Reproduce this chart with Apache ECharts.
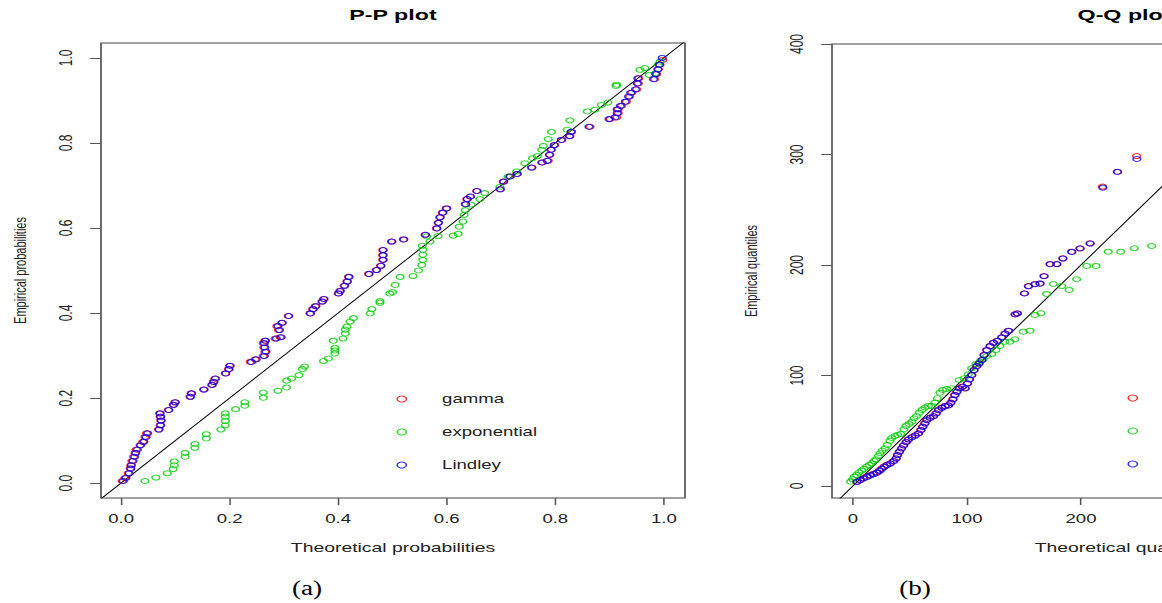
<!DOCTYPE html>
<html>
<head>
<meta charset="utf-8">
<title>P-P and Q-Q plots</title>
<script src="https://cdn.jsdelivr.net/npm/echarts@6/dist/echarts.min.js"></script>
<style>
  html, body { margin: 0; padding: 0; background: #fff; overflow: hidden; }
  #wrap { width: 1162px; height: 603px; overflow: hidden; }
  /* the source figure was stretched sideways, so draw narrow and scale it out */
  #chart { width: 750px; height: 603px; transform: scaleX(1.549333); transform-origin: 0 0; }
</style>
</head>
<body>
<div id="wrap"><div id="chart"></div></div>
<script>
// ---- data ----
const distNames = ['gamma', 'exponential', 'Lindley'];
const distColors = ['#ff0000', '#00cc00', '#0000ff'];

const ppTicks = [0, 0.2, 0.4, 0.6, 0.8, 1.0];
const qqTicks = [0, 100, 200, 300, 400];
const ppXRange = [-0.037, 1.039];
const ppYRange = [-0.035, 1.035];
const qqXRange = [-18.4, 493.9];
const qqYRange = [-10.9, 400];

// P-P: [theoretical, empirical]
const ppGamma = [
  [0.002,0.005],[0.007,0.012],[0.013,0.023],[0.017,0.035],[0.018,0.042],[0.020,0.052],[0.023,0.062],[0.026,0.071],
  [0.028,0.079],[0.035,0.089],[0.040,0.097],[0.044,0.109],[0.047,0.117],[0.069,0.126],[0.072,0.136],[0.073,0.147],
  [0.072,0.156],[0.071,0.164],[0.087,0.172],[0.096,0.184],[0.099,0.190],[0.127,0.203],[0.129,0.211],[0.152,0.220],
  [0.167,0.231],[0.170,0.238],[0.173,0.246],[0.192,0.258],[0.198,0.268],[0.200,0.276],[0.238,0.285],[0.247,0.291],
  [0.262,0.299],[0.265,0.309],[0.263,0.319],[0.262,0.329],[0.265,0.335],[0.284,0.340],[0.293,0.343],[0.290,0.360],
  [0.287,0.369],[0.296,0.377],[0.308,0.393],[0.348,0.399],[0.353,0.409],[0.358,0.416],[0.370,0.427],[0.373,0.433],
  [0.400,0.446],[0.403,0.452],[0.411,0.464],[0.416,0.474],[0.419,0.485],[0.456,0.492],[0.470,0.501],[0.478,0.511],
  [0.482,0.525],[0.482,0.536],[0.482,0.548],[0.498,0.568],[0.520,0.573],[0.560,0.584],[0.581,0.599],[0.584,0.612],
  [0.587,0.625],[0.592,0.636],[0.599,0.646],[0.634,0.656],[0.637,0.668],[0.643,0.674],[0.655,0.687],[0.698,0.691],
  [0.704,0.709],[0.716,0.721],[0.729,0.727],[0.756,0.742],[0.775,0.754],[0.787,0.758],[0.790,0.772],[0.793,0.784],
  [0.799,0.795],[0.812,0.807],[0.827,0.816],[0.830,0.826],[0.864,0.838],[0.901,0.856],[0.913,0.860],[0.916,0.870],
  [0.916,0.879],[0.922,0.887],[0.931,0.897],[0.937,0.909],[0.941,0.918],[0.950,0.926],[0.953,0.940],[0.954,0.952],
  [0.983,0.950],[0.987,0.962],[0.990,0.973],[0.993,0.984],[0.998,0.995]
];
const ppExpo = [
  [0.044,0.005],[0.064,0.013],[0.085,0.023],[0.096,0.033],[0.098,0.042],[0.098,0.051],[0.118,0.062],[0.118,0.071],
  [0.136,0.083],[0.136,0.092],[0.157,0.105],[0.157,0.115],[0.184,0.126],[0.192,0.136],[0.192,0.146],[0.192,0.156],
  [0.192,0.164],[0.211,0.174],[0.228,0.182],[0.228,0.190],[0.262,0.201],[0.262,0.213],[0.289,0.217],[0.305,0.225],
  [0.305,0.241],[0.314,0.246],[0.328,0.254],[0.334,0.268],[0.338,0.274],[0.373,0.287],[0.382,0.293],[0.394,0.305],
  [0.394,0.312],[0.394,0.318],[0.391,0.335],[0.409,0.340],[0.413,0.352],[0.413,0.361],[0.416,0.368],[0.422,0.380],
  [0.428,0.388],[0.459,0.399],[0.462,0.409],[0.477,0.424],[0.477,0.428],[0.495,0.446],[0.500,0.449],[0.505,0.466],
  [0.514,0.485],[0.538,0.487],[0.548,0.500],[0.554,0.513],[0.556,0.525],[0.556,0.537],[0.556,0.549],[0.555,0.558],
  [0.569,0.568],[0.563,0.580],[0.584,0.581],[0.612,0.582],[0.621,0.586],[0.623,0.603],[0.630,0.615],[0.632,0.631],
  [0.634,0.642],[0.645,0.655],[0.661,0.668],[0.670,0.682],[0.698,0.697],[0.713,0.721],[0.729,0.733],[0.744,0.752],
  [0.758,0.764],[0.767,0.769],[0.775,0.784],[0.778,0.793],[0.787,0.809],[0.793,0.826],[0.822,0.831],[0.827,0.853],
  [0.859,0.874],[0.873,0.878],[0.885,0.889],[0.897,0.895],[0.912,0.934],[0.913,0.937],[0.956,0.972],[0.965,0.976],
  [0.973,0.960],[0.985,0.964],[0.990,0.984],[0.993,0.991]
];
const ppLindley = [
  [0.004,0.005],[0.009,0.012],[0.015,0.023],[0.018,0.034],[0.019,0.042],[0.022,0.052],[0.025,0.062],[0.027,0.071],
  [0.030,0.079],[0.036,0.089],[0.042,0.097],[0.046,0.108],[0.049,0.117],[0.070,0.126],[0.073,0.136],[0.074,0.147],
  [0.073,0.156],[0.072,0.164],[0.088,0.172],[0.097,0.184],[0.100,0.190],[0.128,0.203],[0.130,0.211],[0.153,0.220],
  [0.168,0.231],[0.171,0.238],[0.174,0.246],[0.193,0.258],[0.199,0.268],[0.201,0.276],[0.240,0.285],[0.249,0.291],
  [0.264,0.299],[0.267,0.309],[0.265,0.319],[0.264,0.329],[0.266,0.335],[0.286,0.340],[0.295,0.343],[0.292,0.360],
  [0.289,0.369],[0.297,0.377],[0.309,0.393],[0.349,0.399],[0.354,0.409],[0.359,0.416],[0.371,0.427],[0.374,0.433],
  [0.401,0.446],[0.404,0.452],[0.412,0.464],[0.417,0.474],[0.420,0.485],[0.457,0.492],[0.471,0.501],[0.479,0.511],
  [0.483,0.525],[0.483,0.536],[0.483,0.548],[0.499,0.568],[0.521,0.573],[0.561,0.584],[0.582,0.599],[0.585,0.612],
  [0.588,0.625],[0.593,0.636],[0.600,0.646],[0.635,0.656],[0.638,0.668],[0.644,0.674],[0.656,0.687],[0.699,0.691],
  [0.705,0.709],[0.717,0.721],[0.730,0.727],[0.757,0.742],[0.776,0.754],[0.785,0.758],[0.789,0.772],[0.792,0.784],
  [0.798,0.795],[0.811,0.807],[0.826,0.816],[0.829,0.826],[0.862,0.838],[0.899,0.856],[0.910,0.860],[0.914,0.870],
  [0.914,0.879],[0.920,0.887],[0.929,0.897],[0.935,0.909],[0.939,0.918],[0.948,0.926],[0.951,0.940],[0.952,0.952],
  [0.981,0.950],[0.985,0.962],[0.989,0.973],[0.992,0.984],[0.997,1.000]
];

// Q-Q: [theoretical, empirical]
const qqGamma = [
  [3.2,3.9],[6.1,5.4],[9.1,7.0],[12.0,8.4],[14.9,9.7],[17.8,10.9],[20.8,12.1],[23.1,13.9],[25.1,15.7],[27.2,17.5],
  [29.5,19.0],[32.5,20.5],[35.4,22.6],[37.7,25.0],[38.9,28.1],[40.6,31.1],[42.4,34.1],[44.2,36.8],[46.5,39.8],[48.5,42.2],
  [51.5,44.3],[54.4,45.8],[57.3,47.7],[59.4,50.7],[61.1,53.7],[62.9,56.7],[64.6,59.7],[67.5,61.8],[70.5,63.3],[72.8,65.8],
  [74.8,68.8],[77.8,70.9],[80.7,72.4],[83.6,73.0],[85.7,75.4],[87.5,78.5],[89.2,82.4],[91.0,85.4],[93.2,88.4],[95.9,89.9],
  [98.2,88.4],[100.3,92.9],[102.0,96.6],[104.1,100.5],[106.1,105.0],[108.5,108.6],[110.5,111.0],[112.9,114.0],[114.9,118.6],
  [117.3,123.1],[120.2,126.7],[123.1,129.7],[126.6,131.5],[130.4,134.6],[133.3,138.2],[136.3,140.5],[142.1,155.4],
  [144.1,156.3],[150.3,174.4],[153.8,180.9],[159.6,182.8],[164.0,183.3],[167.5,190.0],[172.8,200.9],[178.7,200.9],
  [184.0,206.0],[191.8,212.0],[199.1,215.1],[207.9,219.6],[219.0,270.9],[231.9,284.4],[248.8,298.6]
];
const qqExpo = [
  [-2.0,3.9],[-0.3,6.0],[1.2,8.4],[3.2,10.0],[5.3,12.1],[7.6,13.9],[9.6,15.4],[12.0,17.5],[14.3,19.0],[16.4,20.5],
  [18.4,22.6],[20.2,24.1],[22.2,27.1],[23.7,29.6],[25.7,32.0],[28.1,34.1],[30.1,37.1],[32.5,41.0],[33.9,43.4],[36.8,45.2],
  [39.2,46.2],[41.8,47.1],[44.7,51.3],[46.5,54.3],[49.1,56.1],[51.5,58.2],[53.5,61.3],[55.8,63.3],[58.2,66.3],[60.5,68.8],
  [63.2,70.9],[66.1,72.4],[69.0,72.4],[71.9,75.4],[74.0,79.4],[76.3,84.4],[78.7,86.9],[82.2,87.8],[86.5,88.4],[93.2,95.9],
  [97.4,97.5],[101.2,101.1],[104.1,106.5],[107.9,110.4],[111.4,112.5],[114.3,114.7],[117.3,117.6],[121.7,119.5],
  [125.4,123.1],[128.9,126.7],[133.3,130.6],[137.7,130.6],[142.1,132.8],[149.4,139.6],[155.3,140.5],[159.6,154.8],
  [164.9,156.3],[169.9,173.8],[175.7,182.8],[183.1,180.9],[189.7,177.4],[196.2,187.1],[205.0,199.1],[213.2,199.1],
  [223.9,212.0],[234.8,212.0],[246.8,215.1],[262.0,217.2]
];
const qqLindley = [
  [3.6,3.7],[6.5,5.2],[9.4,6.8],[12.4,8.2],[15.3,9.5],[18.2,10.7],[21.1,12.0],[23.5,13.7],[25.5,15.5],[27.6,17.3],
  [29.9,18.8],[32.9,20.3],[35.8,22.4],[38.0,24.8],[39.2,27.9],[40.9,30.9],[42.7,33.9],[44.5,36.6],[46.8,39.6],[48.8,42.0],
  [51.8,44.1],[54.7,45.6],[57.6,47.5],[59.7,50.5],[61.4,53.5],[63.2,56.5],[64.9,59.5],[67.8,61.6],[70.8,63.1],[73.1,65.6],
  [75.1,68.6],[78.1,70.7],[81.0,72.2],[83.9,72.8],[86.0,75.2],[87.8,78.3],[89.5,82.2],[91.3,85.2],[93.5,88.2],[96.2,89.7],
  [98.5,88.2],[100.6,92.7],[102.3,96.4],[104.3,100.3],[106.3,104.8],[108.7,108.4],[110.7,110.8],[113.1,113.8],[115.1,118.4],
  [117.5,122.9],[120.4,126.5],[123.3,129.5],[126.8,131.3],[130.6,134.4],[133.5,138.0],[136.5,140.3],[142.3,155.2],
  [144.3,156.1],[150.5,174.2],[154.0,180.7],[159.8,182.6],[164.2,183.1],[167.7,189.8],[173.0,200.7],[178.9,200.7],
  [184.2,205.8],[192.0,211.8],[199.3,214.9],[208.1,219.4],[219.2,270.0],[232.1,284.2],[249.0,295.9]
];

// ---- layout (positions measured in the 1162 px picture) ----
const S = 1162 / 750;
const px = v => v / S;
const font = "'Liberation Sans', Arial, sans-serif";
const serif = "'Liberation Serif', 'Times New Roman', serif";
const textColor = '#222';

function pointSeries(name, data, color, idx) {
  return {
    name: name,
    type: 'scatter',
    xAxisIndex: idx,
    yAxisIndex: idx,
    data: data,
    symbol: 'circle',
    symbolSize: 5,
    itemStyle: { color: 'rgba(0,0,0,0)', borderColor: color, borderWidth: 1 },
    emphasis: { disabled: true },
    silent: true
  };
}

function refLine(range, idx) {
  return {
    name: 'ref' + idx,
    type: 'line',
    xAxisIndex: idx,
    yAxisIndex: idx,
    data: [[range[0], range[0]], [range[1], range[1]]],
    showSymbol: false,
    lineStyle: { color: '#000', width: 0.8 },
    emphasis: { disabled: true },
    silent: true,
    z: 1
  };
}

function xAxisFor(idx, range, ticks, name, fmt) {
  return {
    gridIndex: idx,
    type: 'value',
    min: range[0],
    max: range[1],
    name: name,
    nameLocation: 'middle',
    nameGap: 43,
    nameTextStyle: { fontFamily: font, fontSize: 12.5, color: textColor },
    axisLine: { show: false, onZero: false },
    axisTick: { show: true, length: 7, customValues: ticks, lineStyle: { color: '#555' } },
    axisLabel: { customValues: ticks, formatter: fmt, margin: 15, fontFamily: font, fontSize: 12, color: textColor },
    splitLine: { show: false }
  };
}

function yAxisFor(idx, range, ticks, name, fmt) {
  return {
    gridIndex: idx,
    type: 'value',
    min: range[0],
    max: range[1],
    name: name,
    nameLocation: 'middle',
    nameGap: 47,
    nameTextStyle: { fontFamily: font, fontSize: 11, color: textColor },
    axisLine: { show: false, onZero: false },
    axisTick: { show: true, length: 7, customValues: ticks, lineStyle: { color: '#555' } },
    axisLabel: { customValues: ticks, formatter: fmt, rotate: 90, margin: 17, fontFamily: font, fontSize: 12, color: textColor },
    splitLine: { show: false }
  };
}

function legendAt(x, y) {
  return {
    orient: 'vertical',
    left: px(x) - 3,
    top: y,
    itemWidth: 6,
    itemHeight: 6,
    itemGap: 21,
    icon: 'circle',
    selectedMode: false,
    padding: 0,
    data: distNames,
    itemStyle: { borderWidth: 1 },
    textStyle: { fontFamily: font, fontSize: 12, color: textColor, lineHeight: 12, padding: [0, 0, 0, 18] }
  };
}

// the panel letters sit in the page, less stretched than the plots
function caption(text, x) {
  return {
    type: 'text',
    x: px(x),
    y: 588,
    scaleX: 1.36 / S,
    silent: true,
    style: { text: text, font: '20px ' + serif, fill: '#000', align: 'center', verticalAlign: 'middle' }
  };
}

const fmtProb = v => v.toFixed(1);
const fmtQuant = v => String(v);

const chart = echarts.init(document.getElementById('chart'), null, { renderer: 'svg' });
const option = {
  animation: false,
  backgroundColor: '#fff',
  title: [
    { text: 'P-P plot', left: px(393), top: 7, textAlign: 'center', padding: 0,
      textStyle: { fontFamily: font, fontSize: 15, fontWeight: 'bold', color: '#000' } },
    { text: 'Q-Q plot', left: px(1124), top: 7, textAlign: 'center', padding: 0,
      textStyle: { fontFamily: font, fontSize: 15, fontWeight: 'bold', color: '#000' } }
  ],
  graphic: [caption('(a)', 307), caption('(b)', 915)],
  legend: [legendAt(401, 393), legendAt(1132, 392)],
  grid: [
    { left: px(101), top: 43, width: px(584), height: 455, show: true, borderColor: '#444', borderWidth: 1,
      backgroundColor: 'transparent', outerBoundsMode: 'none' },
    { left: px(832), top: 44, width: px(584), height: 454, show: true, borderColor: '#444', borderWidth: 1,
      backgroundColor: 'transparent', outerBoundsMode: 'none' }
  ],
  xAxis: [
    xAxisFor(0, ppXRange, ppTicks, 'Theoretical probabilities', fmtProb),
    xAxisFor(1, qqXRange, qqTicks, 'Theoretical quantiles', fmtQuant)
  ],
  yAxis: [
    yAxisFor(0, ppYRange, ppTicks, 'Empirical probabilities', fmtProb),
    yAxisFor(1, qqYRange, qqTicks, 'Empirical quantiles', fmtQuant)
  ],
  series: [
    refLine(ppXRange, 0),
    pointSeries(distNames[0], ppGamma, distColors[0], 0),
    pointSeries(distNames[1], ppExpo, distColors[1], 0),
    pointSeries(distNames[2], ppLindley, distColors[2], 0),
    refLine(qqXRange, 1),
    pointSeries(distNames[0], qqGamma, distColors[0], 1),
    pointSeries(distNames[1], qqExpo, distColors[1], 1),
    pointSeries(distNames[2], qqLindley, distColors[2], 1)
  ]
};
chart.setOption(option);
</script>
</body>
</html>
